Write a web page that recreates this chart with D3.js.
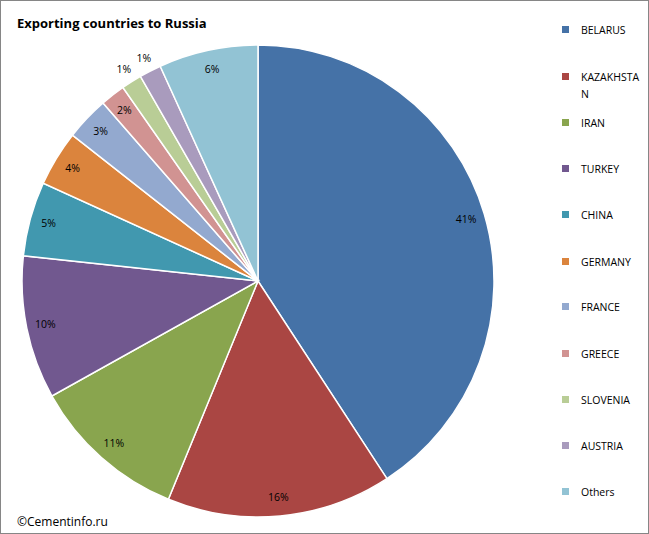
<!DOCTYPE html><html><head><script src="https://cdn.jsdelivr.net/npm/d3@7"></script>
<style>body{margin:0;background:#fff}text{font-family:"Open Sans","Liberation Sans",sans-serif}</style></head><body>
<svg id="c" width="649" height="534"></svg>
<script>
const categories=["BELARUS","KAZAKHSTAN","IRAN","TURKEY","CHINA","GERMANY","FRANCE","GREECE","SLOVENIA","AUSTRIA","Others"];
const values=[40.8,15.4,10.7,9.8,5.1,3.8,3.0,1.7,1.4,1.5,6.8];
const pctLabels=["41%","16%","11%","10%","5%","4%","3%","2%","1%","1%","6%"];
const legendLines=[["BELARUS"],["KAZAKHSTA","N"],["IRAN"],["TURKEY"],["CHINA"],["GERMANY"],["FRANCE"],["GREECE"],["SLOVENIA"],["AUSTRIA"],["Others"]];
const colors=["#4572A7","#AA4643","#89A54E","#71588F","#4198AF","#DB843D","#93A9CF","#D19392","#B9CD96","#A99BBD","#92C3D4"];
const svg=d3.select("#c");
svg.append("rect").attr("x",0.5).attr("y",0.5).attr("width",648).attr("height",533).attr("fill","#fff").attr("stroke","#868686");
svg.append("text").attr("x",17).attr("y",28).attr("font-size",13).attr("font-weight","bold").text("Exporting countries to Russia");
svg.append("text").attr("x",17).attr("y",526).attr("font-size",12).text("©Cementinfo.ru");
const cx=258,cy=281,r=236;
const pie=d3.pie().sort(null)(values);
const arc=d3.arc().innerRadius(0).outerRadius(r);
const g=svg.append("g").attr("transform",`translate(${cx},${cy})`);
g.selectAll("path").data(pie).join("path").attr("d",arc).attr("fill",(d,i)=>colors[i]).attr("stroke","#fff").attr("stroke-width",1.5);
g.selectAll("text.l").data(pie).join("text").attr("class","l")
 .attr("transform",(d,i)=>{const k=(i===8||i===9)?1.06:0.92;const a=d3.arc().innerRadius(r*k).outerRadius(r*k);const [x,y]=a.centroid(d);return `translate(${x},${y})`;})
 .attr("text-anchor","middle").attr("dy","0.35em").attr("font-size",10.5).text((d,i)=>pctLabels[i]);
const ly=[30,77,123,169,215,262,307,354,400,446,492];
const lg=svg.append("g");
categories.forEach((c,i)=>{
 lg.append("rect").attr("x",562).attr("y",ly[i]-4).attr("width",7).attr("height",7).attr("fill",colors[i]);
 legendLines[i].forEach((t,j)=>lg.append("text").attr("x",581).attr("y",ly[i]+4+j*17).attr("font-size",10.5).text(t));
});
</script></body></html>
